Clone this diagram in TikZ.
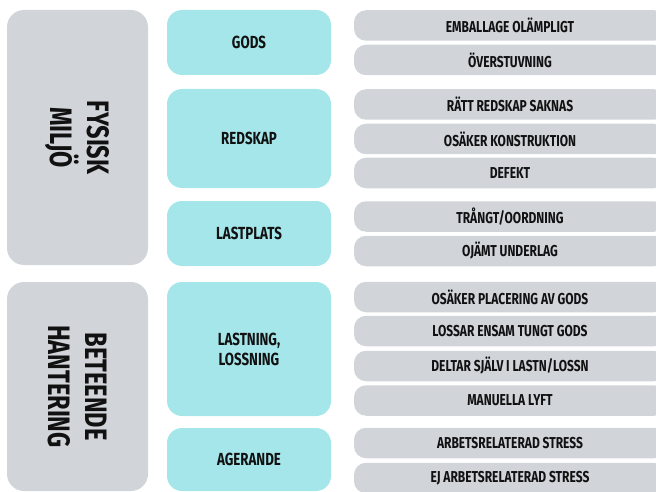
\documentclass[tikz,border=0pt]{standalone}
\usepackage{fontspec}
\newfontfamily\cf{Fira Sans}[FakeStretch=0.76]
\definecolor{grayfill}{RGB}{209,213,218}
\definecolor{cyanfill}{RGB}{164,230,234}
\definecolor{txt}{RGB}{17,17,17}
\tikzset{
  base/.style={inner sep=0pt, outer sep=0pt, text=txt, align=center},
  mainbox/.style={base, fill=grayfill, rounded corners=17pt, minimum width=141pt,
    font=\cf\bfseries\fontsize{31}{37}\selectfont},
  catbox/.style={base, fill=cyanfill, rounded corners=15pt, minimum width=164pt,
    font=\cf\bfseries\fontsize{17.5}{20}\selectfont},
  itembox/.style={base, fill=grayfill, rounded corners=12pt, minimum width=312pt,
    minimum height=30.5pt, font=\cf\bfseries\fontsize{15.8}{18}\selectfont},
}
\begin{document}
\begin{tikzpicture}[x=1pt,y=-1pt]
\useasboundingbox (0,0) rectangle (656,492);
\clip (0,0) rectangle (656,492);
% left main boxes
\node[mainbox, minimum height=255pt] (fys) at (77.5,137.5) {};
\node[base, rotate=-90, font=\cf\bfseries\fontsize{31}{37}\selectfont] (fyst) at (fys.center) {FYSISK\\MILJÖ};
\node[mainbox, minimum height=209pt] (bet) at (77.5,386.5) {};
\node[base, rotate=-90, font=\cf\bfseries\fontsize{31}{37}\selectfont] (bett) at (bet.center) {BETEENDE\\HANTERING};
% category boxes
\node[catbox, minimum height=65pt] (gods) at (249,42.5) {GODS};
\node[catbox, minimum height=99pt] (redskap) at (249,138.5) {REDSKAP};
\node[catbox, minimum height=65pt] (lastplats) at (249,233.5) {LASTPLATS};
\node[catbox, minimum height=134pt] (lastning) at (249,349) {LASTNING,\\LOSSNING};
\node[catbox, minimum height=63pt] (agerande) at (249,459.5) {AGERANDE};
% item boxes
\node[itembox] (i1) at (510,25.5) {EMBALLAGE OLÄMPLIGT};
\node[itembox] (i2) at (510,60) {ÖVERSTUVNING};
\node[itembox] (i3) at (510,104.5) {RÄTT REDSKAP SAKNAS};
\node[itembox] (i4) at (510,139) {OSÄKER KONSTRUKTION};
\node[itembox] (i5) at (510,173) {DEFEKT};
\node[itembox] (i6) at (510,216.5) {TRÅNGT/OORDNING};
\node[itembox] (i7) at (510,251) {OJÄMT UNDERLAG};
\node[itembox] (i8) at (510,297) {OSÄKER PLACERING AV GODS};
\node[itembox] (i9) at (510,331) {LOSSAR ENSAM TUNGT GODS};
\node[itembox] (i10) at (510,366) {DELTAR SJÄLV I LASTN/LOSSN};
\node[itembox] (i11) at (510,400.5) {MANUELLA LYFT};
\node[itembox] (i12) at (510,443) {ARBETSRELATERAD STRESS};
\node[itembox] (i13) at (510,478) {EJ ARBETSRELATERAD STRESS};
\end{tikzpicture}
\end{document}
